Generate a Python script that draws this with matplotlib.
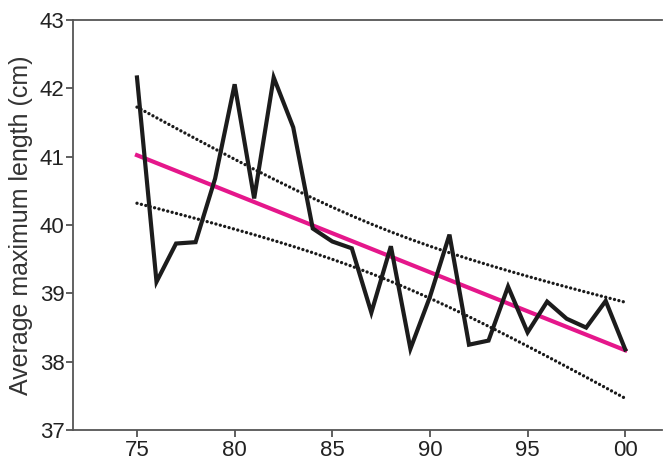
import numpy as np
import matplotlib
matplotlib.use("Agg")
import matplotlib.pyplot as plt

plt.rcParams["font.family"] = ["Liberation Sans", "DejaVu Sans"]

years = np.arange(75, 101)
lengths = [42.16, 39.17, 39.73, 39.75, 40.68, 42.06, 40.39, 42.16, 41.43, 39.95,
           39.76, 39.66, 38.72, 39.69, 38.19, 38.95, 39.86, 38.25, 38.31, 39.10,
           38.43, 38.88, 38.63, 38.50, 38.89, 38.18]
tick_years = [75, 80, 85, 90, 95, 100]
tick_labels = ["75", "80", "85", "90", "95", "00"]

# linear fit and 95% confidence band of the mean
x = years.astype(float)
y = np.array(lengths)
n = len(x)
slope, icpt = np.polyfit(x, y, 1)
fit = icpt + slope * x
s = np.sqrt(np.sum((y - fit) ** 2) / (n - 2))
sxx = np.sum((x - x.mean()) ** 2)
t = 2.064
half = t * s * np.sqrt(1 / n + (x - x.mean()) ** 2 / sxx)

fig = plt.figure(figsize=(6.63, 4.66), dpi=100)
ax = fig.add_axes([0.110, 0.077, 0.889, 0.880])

dots = (0, (0.01, 1.35))
ax.plot(x, fit + half, color="#1a1a1a", lw=2.4, ls=dots, dash_capstyle="round")
ax.plot(x, fit - half, color="#1a1a1a", lw=2.4, ls=dots, dash_capstyle="round")
ax.plot(x, fit, color="#e5178b", lw=3)
ax.plot(years, lengths, color="#1c1c1c", lw=3, solid_joinstyle="miter")

ax.set_xlim(71.72, 101.9)
ax.set_ylim(37, 43)
ax.set_xticks(tick_years)
ax.set_xticklabels(tick_labels)
ax.set_yticks(range(37, 44))
ax.tick_params(labelsize=16, length=5, width=1.2, color="#444444", labelcolor="#222222", pad=2)
ax.tick_params(axis="y", pad=1)
ax.set_ylabel("Average maximum length (cm)", fontsize=18, color="#333333", labelpad=5)

for side in ["left", "bottom", "top"]:
    ax.spines[side].set_color("#555555")
    ax.spines[side].set_linewidth(1.3)
ax.spines["right"].set_visible(False)

fig.savefig("out.png", dpi=100)
